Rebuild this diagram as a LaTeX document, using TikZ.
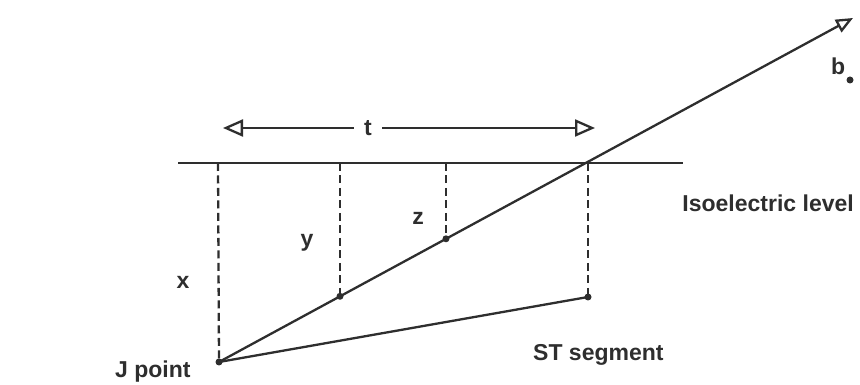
\documentclass[tikz,border=0pt]{standalone}
\usepackage{fontspec}
\setmainfont{Liberation Sans}
\usetikzlibrary{arrows.meta,calc}
\definecolor{ink}{HTML}{2E2E2E}
\begin{document}
\begin{tikzpicture}[x=1pt,y=1pt,
  lbl/.style={inner sep=0pt,text=ink,font=\fontsize{23}{26}\selectfont\bfseries},
  solidline/.style={draw=ink,line width=2.3pt},
  dashline/.style={draw=ink,line width=2.3pt,dash pattern=on 8pt off 4.5pt},
  dotmark/.style={circle,fill=ink,inner sep=0pt,minimum size=7pt},
  opentip/.style={-{Triangle[open,length=20pt,width=17pt,line width=2.3pt]}},
  opentipb/.style={-{Triangle[open,length=17pt,width=14pt,line width=2.3pt]}}]
\useasboundingbox (0,0) rectangle (860,385);
% isoelectric baseline
\coordinate (bl) at (178,222);
\coordinate (br) at (683,222);
\draw[solidline] (bl) -- (br);
% key points
\node[dotmark] (J) at (219,23) {};
\coordinate (tip) at (853,367);
\node[dotmark] (ydot) at (340,88.7) {};
\node[dotmark] (zdot) at (446,146.2) {};
\node[dotmark] (st) at (588,88) {};
% feet on baseline
\coordinate (fx) at (218,222);
\coordinate (fy) at (340,222);
\coordinate (fz) at (446,222);
\coordinate (fs) at (588,222);
% lines
\draw[solidline,opentipb] (J.center) -- (tip);
\draw[solidline] (J.center) -- (st.center);
\draw[dashline] (fx) -- (J.center);
\draw[dashline] (fy) -- (ydot.center);
\draw[dashline] (fz) -- (zdot.center);
\draw[dashline] (fs) -- (st.center);
% t arrow
\node[lbl,inner xsep=10pt] (t) at (368,257) {t};
\coordinate (tl) at (223,257);
\coordinate (tr) at (595,257);
\draw[solidline,opentip] (t.west) -- (tl);
\draw[solidline,opentip] (t.east) -- (tr);
% labels
\node[lbl] (lx) at (183,103) {x};
\node[lbl] (ly) at (307,142) {y};
\node[lbl] (lz) at (418,167) {z};
\node[lbl,anchor=base west] (lj) at (115,7) {J point};
\node[lbl,anchor=base west] (lst) at (533,24) {ST segment};
\node[lbl,anchor=base east] (liso) at (854,173) {Isoelectric level};
\node[lbl,anchor=base west] (lb) at (831,310) {b};
\node[dotmark,minimum size=7pt] (bdot) at (850,305) {};
\end{tikzpicture}
\end{document}
